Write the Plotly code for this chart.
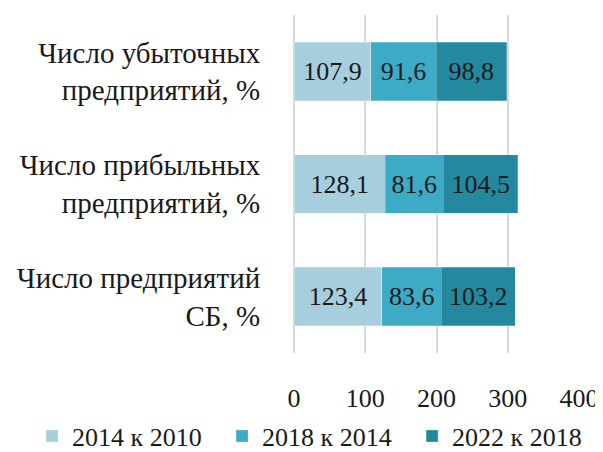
import plotly.graph_objects as go

categories = ["Число убыточных<br>предприятий, %",
              "Число прибыльных<br>предприятий, %",
              "Число предприятий<br>СБ, %"]
series_names = ["2014 к 2010", "2018 к 2014", "2022 к 2018"]
s2014_2010 = [107.9, 128.1, 123.4]
s2018_2014 = [91.6, 81.6, 83.6]
s2022_2018 = [98.8, 104.5, 103.2]
x_ticks = [0, 100, 200, 300, 400]

colors = ["#A7CEDD", "#3DAAC6", "#24899F"]
FONT = "Liberation Serif"
TXT = "#1a1a1a"

fig = go.Figure()
for name, vals, col in zip(series_names, [s2014_2010, s2018_2014, s2022_2018], colors):
    fig.add_trace(go.Bar(
        y=categories, x=vals, name=name, orientation="h",
        marker=dict(color=col, line=dict(color="rgba(255,255,255,0.5)", width=0.5)),
        texttemplate="%{x:.1f}", textposition="inside", insidetextanchor="middle",
        textangle=0, textfont=dict(family=FONT, size=26, color=TXT),
        constraintext="none",
    ))

# page body has an 8px margin, so the figure is offset by 8px
fig.update_layout(
    barmode="stack", bargap=0.48,
    width=595, height=460,
    margin=dict(l=286, r=24, t=7, b=115),
    paper_bgcolor="white", plot_bgcolor="white",
    separators=", ",
    font=dict(family=FONT, size=26, color=TXT),
    showlegend=True,
    legend=dict(orientation="h", x=-0.919, xanchor="left", y=-0.2456, yanchor="middle",
                traceorder="normal",
                font=dict(family=FONT, size=26, color=TXT),
                itemwidth=30, entrywidth=145, entrywidthmode="pixels"),
)
fig.update_xaxes(range=[0, 400], tickvals=x_ticks, showgrid=True, gridcolor="#D9D9D9",
                 gridwidth=1.5, zeroline=True, zerolinecolor="#D9D9D9", zerolinewidth=1.5,
                 showline=False, ticks="outside", ticklen=22, tickcolor="rgba(0,0,0,0)",
                 automargin=False,
                 tickfont=dict(family=FONT, size=26, color=TXT))
fig.update_yaxes(autorange="reversed", showgrid=False, showline=False,
                 ticks="outside", ticklen=27, tickcolor="rgba(0,0,0,0)",
                 automargin=False,
                 tickfont=dict(family=FONT, size=29, color=TXT))

fig.write_html("out.html")
